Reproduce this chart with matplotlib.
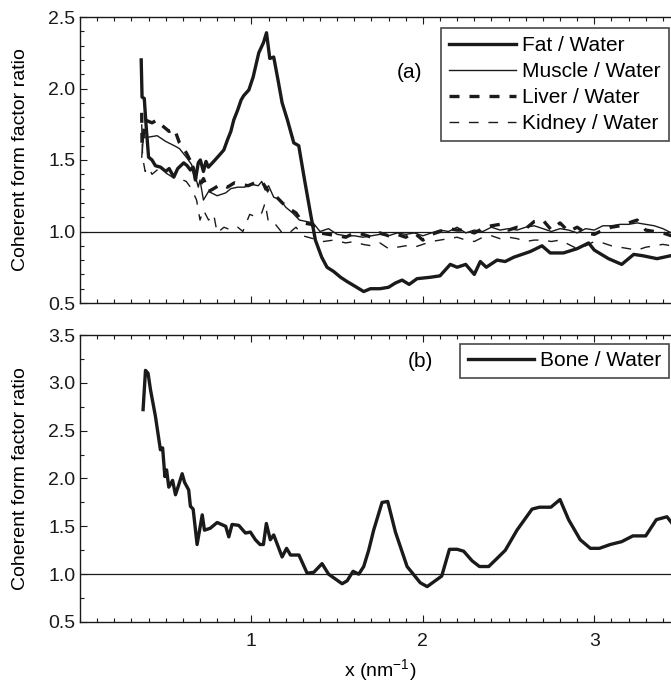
import matplotlib
matplotlib.use("Agg")
import matplotlib.pyplot as plt
from matplotlib.ticker import MultipleLocator, FixedLocator, FormatStrFormatter

plt.rcParams['font.family'] = ['Liberation Sans', 'DejaVu Sans']
plt.rcParams['mathtext.fontset'] = 'custom'
plt.rcParams['mathtext.rm'] = 'Liberation Sans'

# ---------------- data (panel a) ----------------
fat_x = [0.357, 0.362, 0.375, 0.385, 0.40, 0.42, 0.44, 0.47, 0.50, 0.52, 0.547, 0.57, 0.605, 0.625,
         0.644, 0.66, 0.673, 0.69, 0.702, 0.72, 0.735, 0.749, 0.78, 0.81, 0.839, 0.86, 0.88, 0.897,
         0.92, 0.94, 0.955, 0.985, 1.01, 1.043, 1.07, 1.088, 1.107, 1.13, 1.155, 1.179, 1.21, 1.247,
         1.276, 1.31, 1.344, 1.373, 1.41, 1.441, 1.48, 1.52, 1.558, 1.60, 1.655, 1.694, 1.75, 1.80,
         1.84, 1.879, 1.92, 1.966, 2.044, 2.10, 2.16, 2.20, 2.25, 2.30, 2.335, 2.37, 2.433, 2.48,
         2.53, 2.627, 2.695, 2.743, 2.82, 2.90, 2.967, 3.00, 3.083, 3.16, 3.23, 3.285, 3.366, 3.443]
fat_y = [2.20, 1.94, 1.93, 1.75, 1.52, 1.50, 1.46, 1.45, 1.42, 1.44, 1.38, 1.44, 1.48, 1.46,
         1.43, 1.45, 1.36, 1.48, 1.50, 1.42, 1.49, 1.45, 1.49, 1.53, 1.57, 1.64, 1.70, 1.78,
         1.85, 1.92, 1.95, 1.99, 2.08, 2.25, 2.32, 2.39, 2.21, 2.22, 2.06, 1.90, 1.78, 1.62,
         1.60, 1.36, 1.13, 0.94, 0.82, 0.75, 0.72, 0.68, 0.65, 0.62, 0.58, 0.60, 0.60, 0.61,
         0.64, 0.66, 0.63, 0.67, 0.68, 0.69, 0.77, 0.75, 0.77, 0.70, 0.79, 0.75, 0.80, 0.79,
         0.82, 0.86, 0.90, 0.85, 0.85, 0.88, 0.92, 0.87, 0.81, 0.77, 0.84, 0.83, 0.81, 0.83]

muscle_x = [0.36, 0.37, 0.40, 0.45, 0.50, 0.55, 0.58, 0.62, 0.65, 0.67, 0.69, 0.70, 0.72, 0.75,
            0.80, 0.85, 0.88, 0.92, 0.96, 1.00, 1.04, 1.06, 1.08, 1.10, 1.13, 1.17, 1.20, 1.24,
            1.28, 1.32, 1.36, 1.40, 1.45, 1.50, 1.55, 1.60, 1.65, 1.70, 1.75, 1.80, 1.85, 1.90,
            1.95, 2.00, 2.05, 2.10, 2.15, 2.20, 2.25, 2.30, 2.35, 2.40, 2.45, 2.50, 2.55, 2.60,
            2.65, 2.70, 2.75, 2.80, 2.85, 2.90, 2.95, 3.00, 3.05, 3.10, 3.15, 3.20, 3.25, 3.30,
            3.35, 3.40, 3.45]
muscle_y = [1.52, 1.66, 1.66, 1.67, 1.63, 1.60, 1.58, 1.52, 1.47, 1.40, 1.31, 1.36, 1.22, 1.28,
            1.25, 1.27, 1.30, 1.31, 1.31, 1.33, 1.32, 1.35, 1.29, 1.32, 1.24, 1.22, 1.17, 1.13,
            1.08, 1.07, 1.06, 1.00, 1.02, 0.98, 0.97, 0.97, 0.96, 0.97, 0.98, 0.97, 0.99, 0.98,
            0.99, 0.97, 0.99, 1.01, 1.00, 1.03, 0.99, 1.01, 1.00, 1.03, 1.01, 1.02, 1.01, 1.03,
            1.04, 1.02, 1.00, 1.02, 1.01, 0.99, 1.02, 1.01, 1.04, 1.04, 1.05, 1.05, 1.06, 1.05,
            1.04, 1.02, 0.99]

liver_x = [0.36, 0.362, 0.38, 0.42, 0.45, 0.48, 0.52, 0.55, 0.58, 0.62, 0.65, 0.68, 0.70, 0.72,
           0.75, 0.78, 0.82, 0.86, 0.90, 0.94, 0.98, 1.02, 1.06, 1.10, 1.14, 1.18, 1.22, 1.26,
           1.30, 1.35, 1.40, 1.45, 1.50, 1.55, 1.60, 1.65, 1.70, 1.75, 1.80, 1.85, 1.90, 1.95,
           2.00, 2.05, 2.10, 2.15, 2.20, 2.25, 2.30, 2.35, 2.40, 2.45, 2.50, 2.55, 2.60, 2.65,
           2.70, 2.75, 2.80, 2.85, 2.90, 2.95, 3.00, 3.05, 3.10, 3.15, 3.20, 3.25, 3.30, 3.35,
           3.40, 3.45]
liver_y = [1.83, 1.60, 1.78, 1.76, 1.78, 1.74, 1.70, 1.72, 1.62, 1.55, 1.48, 1.35, 1.32, 1.37,
           1.28, 1.30, 1.33, 1.31, 1.34, 1.33, 1.32, 1.34, 1.35, 1.28, 1.25, 1.20, 1.16, 1.13,
           1.06, 1.05, 0.99, 0.98, 0.97, 0.96, 0.99, 0.98, 0.96, 0.99, 0.97, 0.98, 0.96, 0.99,
           0.94, 0.98, 1.00, 1.02, 1.01, 1.01, 0.99, 1.02, 1.04, 1.05, 1.01, 1.03, 1.02, 1.07,
           1.08, 1.01, 1.06, 1.00, 1.03, 0.99, 0.98, 1.01, 1.03, 1.04, 1.06, 1.08, 1.01, 1.00,
           0.99, 0.97]

kidney_x = [0.36, 0.365, 0.38, 0.40, 0.42, 0.46, 0.50, 0.54, 0.58, 0.62, 0.65, 0.68, 0.70, 0.72,
            0.75, 0.78, 0.80, 0.84, 0.88, 0.92, 0.95, 0.99, 1.03, 1.06, 1.08, 1.10, 1.14, 1.18,
            1.22, 1.26, 1.30, 1.36, 1.42, 1.48, 1.55, 1.60, 1.65, 1.70, 1.75, 1.80, 1.85, 1.90,
            1.95, 2.00, 2.05, 2.10, 2.15, 2.20, 2.25, 2.30, 2.35, 2.40, 2.45, 2.50, 2.55, 2.60,
            2.65, 2.70, 2.75, 2.80, 2.85, 2.90, 2.95, 3.00, 3.05, 3.10, 3.15, 3.20, 3.25, 3.30,
            3.35, 3.40, 3.45]
kidney_y = [1.75, 1.52, 1.42, 1.45, 1.40, 1.44, 1.41, 1.38, 1.37, 1.35, 1.30, 1.22, 1.08, 1.15,
            1.08, 1.12, 0.99, 1.03, 1.01, 1.03, 1.00, 1.12, 1.10, 1.13, 1.20, 1.06, 1.05, 0.99,
            0.99, 1.03, 0.97, 0.95, 0.93, 0.94, 0.92, 0.93, 0.91, 0.90, 0.92, 0.88, 0.89, 0.90,
            0.89, 0.91, 0.93, 0.94, 0.95, 0.96, 0.94, 0.93, 0.96, 0.97, 0.95, 0.96, 0.95, 0.93,
            0.94, 0.94, 0.93, 0.94, 0.91, 0.88, 0.90, 0.93, 0.92, 0.90, 0.89, 0.88, 0.87, 0.89,
            0.90, 0.91, 0.90]

# ---------------- data (panel b) ----------------
bone_x = [0.368, 0.382, 0.397, 0.411, 0.44, 0.469, 0.482, 0.495, 0.505, 0.518, 0.54, 0.557, 0.577,
          0.596, 0.61, 0.634, 0.644, 0.66, 0.683, 0.713, 0.726, 0.76, 0.80, 0.85, 0.868, 0.887,
          0.926, 0.965, 0.994, 1.023, 1.05, 1.07, 1.087, 1.11, 1.13, 1.179, 1.205, 1.228, 1.277,
          1.325, 1.364, 1.412, 1.45, 1.529, 1.558, 1.593, 1.626, 1.655, 1.684, 1.713, 1.762,
          1.795, 1.84, 1.908, 1.985, 2.025, 2.11, 2.155, 2.20, 2.238, 2.287, 2.33, 2.384, 2.43,
          2.481, 2.549, 2.637, 2.68, 2.747, 2.80, 2.85, 2.918, 2.977, 3.03, 3.093, 3.16, 3.225,
          3.30, 3.362, 3.424, 3.45]
bone_y = [2.72, 3.13, 3.10, 2.93, 2.65, 2.30, 2.32, 2.02, 2.09, 1.91, 1.98, 1.83, 1.94,
          2.05, 1.96, 1.88, 1.71, 1.68, 1.31, 1.62, 1.46, 1.48, 1.54, 1.50, 1.39, 1.52,
          1.51, 1.43, 1.44, 1.36, 1.31, 1.31, 1.53, 1.36, 1.41, 1.18, 1.27, 1.20, 1.20,
          1.01, 1.02, 1.11, 1.00, 0.90, 0.93, 1.03, 1.00, 1.08, 1.25, 1.46, 1.75,
          1.76, 1.44, 1.08, 0.91, 0.87, 0.98, 1.26, 1.26, 1.24, 1.14, 1.08, 1.08, 1.16,
          1.25, 1.46, 1.68, 1.70, 1.70, 1.78, 1.57, 1.36, 1.27, 1.27, 1.31, 1.34, 1.40,
          1.40, 1.57, 1.60, 1.54]

x_ticks = [1, 2, 3]

FS = 14
LFS = 15
ink = '#1a1a1a'
fig = plt.figure(figsize=(6.71, 6.89), dpi=100)
ax1 = fig.add_axes([80/671, 1 - 303/689, 600/671, 286/689])
ax2 = fig.add_axes([80/671, 1 - 622/689, 600/671, 287/689])

thick = 2.4
thin = 1.0
ax1.plot(fat_x, fat_y, color=ink, lw=thick, label='Fat / Water')
ax1.plot(muscle_x, muscle_y, color=ink, lw=thin, label='Muscle / Water')
ax1.plot(liver_x, liver_y, color=ink, lw=thick, ls=(0, (3, 3)), label='Liver / Water')
ax1.plot(kidney_x, kidney_y, color=ink, lw=thin, ls=(0, (7, 7)), label='Kidney / Water')
ax1.axhline(1.0, color=ink, lw=0.9)

ax2.plot(bone_x, bone_y, color=ink, lw=thick, label='Bone / Water')
ax2.axhline(1.0, color=ink, lw=0.9)

for ax in (ax1, ax2):
    ax.set_xlim(0, 3.5)
    ax.xaxis.set_major_locator(FixedLocator(x_ticks))
    ax.xaxis.set_minor_locator(MultipleLocator(0.1))
    ax.tick_params(which='both', direction='in', top=True, right=True, labelsize=FS,
                   width=0.8, colors=ink)
    ax.tick_params(which='major', length=5)
    ax.tick_params(which='minor', length=3)
    ax.tick_params(axis='x', pad=8)
    for s in ax.spines.values():
        s.set_linewidth(1.0)
        s.set_color(ink)
    ax.set_ylabel('Coherent form factor ratio', fontsize=FS)
    ax.yaxis.set_label_coords(-0.085, 0.5)
    ax.yaxis.set_major_formatter(FormatStrFormatter('%.1f'))

ax1.set_ylim(0.5, 2.5)
ax1.yaxis.set_major_locator(MultipleLocator(0.5))
ax1.yaxis.set_minor_locator(MultipleLocator(0.1))
ax1.tick_params(labelbottom=False)

ax2.set_ylim(0.5, 3.5)
ax2.yaxis.set_major_locator(MultipleLocator(0.5))
ax2.yaxis.set_minor_locator(MultipleLocator(0.25))
ax2.set_xlabel('x (nm$^{-1}$)', fontsize=FS, labelpad=5)

leg1 = ax1.legend(loc='upper right', bbox_to_anchor=(669/671, 1 - 28/689),
                  bbox_transform=fig.transFigure, fontsize=LFS, frameon=True, fancybox=False,
                  edgecolor=ink, handlelength=3.2, handletextpad=0.3,
                  borderpad=0.4, labelspacing=0.33, borderaxespad=0)
leg1.get_frame().set_linewidth(1.2)
leg2 = ax2.legend(loc='upper right', bbox_to_anchor=(669/671, 1 - 344/689),
                  bbox_transform=fig.transFigure, fontsize=LFS, frameon=True, fancybox=False,
                  edgecolor=ink, handlelength=3.2, handletextpad=0.3,
                  borderpad=0.35, borderaxespad=0)
leg2.get_frame().set_linewidth(1.2)

fig.text(410/671, 1 - 72/689, '(a)', fontsize=LFS, ha='center', va='center')
fig.text(420/671, 1 - 362/689, '(b)', fontsize=LFS, ha='center', va='center')

fig.savefig('out.png', dpi=100)
